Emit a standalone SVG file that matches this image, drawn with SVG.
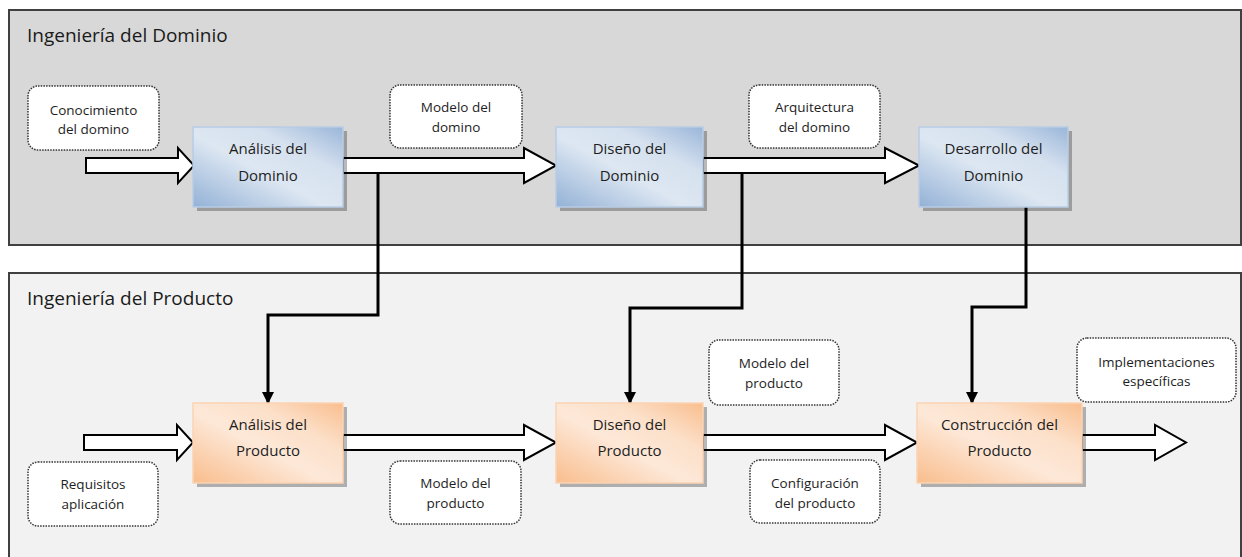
<svg xmlns="http://www.w3.org/2000/svg" width="1242" height="557" viewBox="0 0 1242 557">
<defs>
<linearGradient id="gBlue" x1="0" y1="1" x2="1" y2="0">
<stop offset="0" stop-color="#93b1d6"/>
<stop offset="0.45" stop-color="#dde7f2"/>
<stop offset="0.7" stop-color="#d6e1ef"/>
<stop offset="1" stop-color="#9ab6d9"/>
</linearGradient>
<linearGradient id="gOrange" x1="0" y1="1" x2="1" y2="0">
<stop offset="0" stop-color="#f9bd8c"/>
<stop offset="0.45" stop-color="#fde8d8"/>
<stop offset="0.7" stop-color="#fce0c9"/>
<stop offset="1" stop-color="#f9be8e"/>
</linearGradient>
<marker id="ah" markerUnits="userSpaceOnUse" markerWidth="14" markerHeight="14" refX="12" refY="6" orient="auto">
<path d="M0,0 L12,6 L0,12 Z" fill="#000"/>
</marker>
</defs>
<style>
.panel{stroke:#404040;stroke-width:2}
.title{font-family:"Open Sans","Noto Sans",sans-serif;font-size:19px;fill:#1a1a1a}
.shadow{fill:#000;opacity:0.28}
.blue{fill:url(#gBlue);stroke:#b8cce4;stroke-width:1.5}
.orange{fill:url(#gOrange);stroke:#fbd4b4;stroke-width:1.5}
.btxt{font-family:"Open Sans","Noto Sans",sans-serif;font-size:15px;fill:#1e1e1e;text-anchor:middle}
.lbl{fill:#fff;stroke:#333;stroke-width:1.5;stroke-dasharray:1.5 1.2}
.ltxt{font-family:"Open Sans","Noto Sans",sans-serif;font-size:13.5px;fill:#1e1e1e;text-anchor:middle}
.barrow{fill:#fff;stroke:#000;stroke-width:2;stroke-linejoin:miter}
.conn{fill:none;stroke:#000;stroke-width:3}
</style>
<rect x="0" y="0" width="1242" height="557" fill="#fff"/>
<g id="panel-dominio">
<rect class="panel" x="9" y="10" width="1232" height="235" fill="#d8d8d8"/>
<text class="title" x="27" y="42">Ingeniería del Dominio</text>
</g>
<g id="panel-producto">
<rect class="panel" x="9" y="273" width="1232" height="300" fill="#f2f2f2"/>
<text class="title" x="27" y="305">Ingeniería del Producto</text>
</g>

<g id="lbl-conocimiento">
<rect class="lbl" x="28" y="86" width="131" height="64" rx="10"/>
<text class="ltxt" x="93.5" y="115">Conocimiento</text>
<text class="ltxt" x="93.5" y="134">del domino</text>
</g>
<g id="lbl-modelo-dominio">
<rect class="lbl" x="390" y="85" width="132" height="63" rx="10"/>
<text class="ltxt" x="456" y="112">Modelo del</text>
<text class="ltxt" x="456" y="132">domino</text>
</g>
<g id="lbl-arquitectura">
<rect class="lbl" x="749" y="85" width="131" height="63" rx="10"/>
<text class="ltxt" x="814.5" y="112">Arquitectura</text>
<text class="ltxt" x="814.5" y="132">del domino</text>
</g>
<g id="lbl-modelo-producto-top">
<rect class="lbl" x="709" y="340" width="130" height="65" rx="10"/>
<text class="ltxt" x="774" y="368">Modelo del</text>
<text class="ltxt" x="774" y="388">producto</text>
</g>
<g id="lbl-implementaciones">
<rect class="lbl" x="1077" y="338" width="159" height="64" rx="10"/>
<text class="ltxt" x="1156.5" y="367">Implementaciones</text>
<text class="ltxt" x="1156.5" y="386">específicas</text>
</g>
<g id="lbl-requisitos">
<rect class="lbl" x="28" y="462" width="130" height="64" rx="10"/>
<text class="ltxt" x="93" y="489">Requisitos</text>
<text class="ltxt" x="93" y="509">aplicación</text>
</g>
<g id="lbl-modelo-producto-bottom">
<rect class="lbl" x="390" y="461" width="131" height="63" rx="10"/>
<text class="ltxt" x="455.5" y="488">Modelo del</text>
<text class="ltxt" x="455.5" y="508">producto</text>
</g>
<g id="lbl-configuracion">
<rect class="lbl" x="750" y="460" width="130" height="63" rx="10"/>
<text class="ltxt" x="815" y="488">Configuración</text>
<text class="ltxt" x="815" y="508">del producto</text>
</g>

<g id="connectors">
<path class="barrow" d="M86,158 H178 V148 L194,165.5 L178,183 V173 H86 Z"/>
<path class="barrow" d="M343,158 H524 V148 L556,165.5 L524,183 V173 H343 Z"/>
<path class="barrow" d="M703,158 H885 V148 L919,165.5 L885,183 V173 H703 Z"/>
<path class="barrow" d="M84,435 H177 V425 L193,442.5 L177,460 V450 H84 Z"/>
<path class="barrow" d="M343,435 H524 V425 L556,442.5 L524,460 V450 H343 Z"/>
<path class="barrow" d="M703,435 H885 V425 L917,442.5 L885,460 V450 H703 Z"/>
<path class="barrow" d="M1082,435 H1155 V425 L1186,442.5 L1155,460 V450 H1082 Z"/>
<path class="conn" d="M378,173 V315 H268 V404" marker-end="url(#ah)"/>
<path class="conn" d="M742,173 V308 H630 V404" marker-end="url(#ah)"/>
<path class="conn" d="M1026,207 V307 H972 V404" marker-end="url(#ah)"/>
</g>

<g id="analisis-dominio">
<rect class="shadow" x="197" y="131" width="150" height="80"/>
<rect class="blue" x="193" y="127" width="150" height="80"/>
<text class="btxt" x="268" y="154">Análisis del</text>
<text class="btxt" x="268" y="181">Dominio</text>
</g>
<g id="diseno-dominio">
<rect class="shadow" x="560" y="131" width="147" height="80"/>
<rect class="blue" x="556" y="127" width="147" height="80"/>
<text class="btxt" x="629.5" y="154">Diseño del</text>
<text class="btxt" x="629.5" y="181">Dominio</text>
</g>
<g id="desarrollo-dominio">
<rect class="shadow" x="923" y="131" width="149" height="80"/>
<rect class="blue" x="919" y="127" width="149" height="80"/>
<text class="btxt" x="993.5" y="154">Desarrollo del</text>
<text class="btxt" x="993.5" y="181">Dominio</text>
</g>
<g id="analisis-producto">
<rect class="shadow" x="197" y="407" width="150" height="80"/>
<rect class="orange" x="193" y="403" width="150" height="80"/>
<text class="btxt" x="268" y="430">Análisis del</text>
<text class="btxt" x="268" y="456">Producto</text>
</g>
<g id="diseno-producto">
<rect class="shadow" x="560" y="407" width="147" height="80"/>
<rect class="orange" x="556" y="403" width="147" height="80"/>
<text class="btxt" x="629.5" y="430">Diseño del</text>
<text class="btxt" x="629.5" y="456">Producto</text>
</g>
<g id="construccion-producto">
<rect class="shadow" x="921" y="407" width="165" height="80"/>
<rect class="orange" x="917" y="403" width="165" height="80"/>
<text class="btxt" x="999.5" y="430">Construcción del</text>
<text class="btxt" x="999.5" y="456">Producto</text>
</g>
</svg>
